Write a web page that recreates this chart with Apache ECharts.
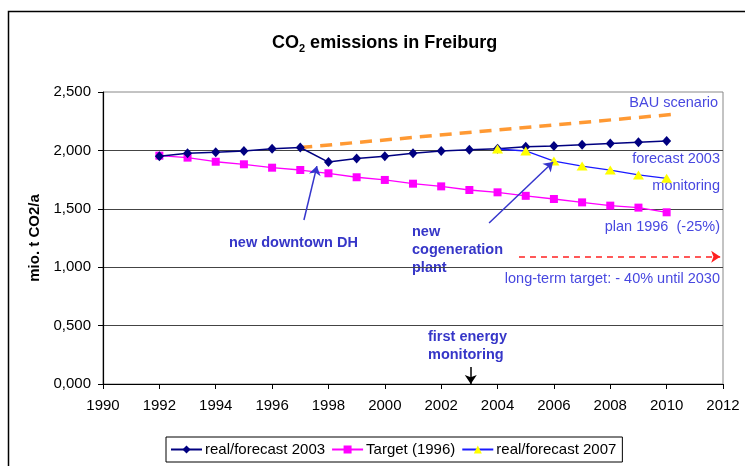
<!DOCTYPE html>
<html>
<head>
<meta charset="utf-8">
<script src="https://cdn.jsdelivr.net/npm/echarts@6/dist/echarts.min.js"></script>
<style>
  html, body { margin: 0; padding: 0; background: #fff; }
  #chart { width: 745px; height: 466px; }
</style>
</head>
<body>
<div id="chart"></div>
<script>
// values
const years = [1992, 1993, 1994, 1995, 1996, 1997, 1998, 1999, 2000, 2001,
               2002, 2003, 2004, 2005, 2006, 2007, 2008, 2009, 2010];
const real2003 = [1950, 1975, 1985, 1995, 2015, 2025, 1900, 1930, 1950, 1975,
                  1995, 2005, 2015, 2032, 2038, 2048, 2060, 2070, 2080];
const target1996 = [1955, 1938, 1903, 1881, 1852, 1832, 1804, 1770, 1747, 1715,
                    1692, 1661, 1641, 1611, 1584, 1555, 1527, 1510, 1470];
const years2007 = [2004, 2005, 2006, 2007, 2008, 2009, 2010];
const real2007 = [2012, 1995, 1909, 1866, 1832, 1790, 1761];
const bauYears = [1997, 2010.3];
const bauValues = [2025, 2310];
const yTickLabels = ['0,000', '0,500', '1,000', '1,500', '2,000', '2,500'];
const seriesNames = ['real/forecast 2003', 'Target (1996)', 'real/forecast 2007'];

const pairs = (xs, ys) => xs.map((x, i) => [x, ys[i]]);

const chart = echarts.init(document.getElementById('chart'));

const noteBold = '#3636c8';
const noteLight = '#4848e0';
const arrowBlue = '#3535cc';
const fnt = 'Liberation Sans, Arial, sans-serif';

function arrow(from, to, color, dashed) {
  return [
    { coord: from, lineStyle: { color: color, width: 1.5, type: dashed ? [6, 5] : 'solid' } },
    { coord: to }
  ];
}

const option = {
  animation: false,
  textStyle: { fontFamily: fnt },
  title: {
    text: '{a|CO}{b|2}{a| emissions in Freiburg}',
    left: 267,
    top: 27,
    textStyle: {
      rich: {
        a: { fontSize: 18, fontWeight: 'bold', color: '#000', lineHeight: 22, fontFamily: fnt },
        b: { fontSize: 11, fontWeight: 'bold', color: '#000', lineHeight: 12, verticalAlign: 'bottom', fontFamily: fnt }
      }
    }
  },
  grid: {
    left: 103, right: 22, top: 92, bottom: 82,
    show: true, borderColor: '#888', borderWidth: 1
  },
  legend: {
    data: seriesNames,
    left: 166,
    top: 437,
    padding: [5, 6, 5, 4],
    itemWidth: 31,
    itemHeight: 10,
    itemGap: 6,
    borderColor: '#000',
    borderWidth: 1,
    textStyle: { fontSize: 15, color: '#000', padding: [0, 0, 0, -2] }
  },
  xAxis: {
    type: 'value',
    min: 1990,
    max: 2012,
    interval: 2,
    axisLine: { lineStyle: { color: '#000', width: 1.2 } },
    axisTick: { show: true, length: 5, lineStyle: { color: '#000' } },
    axisLabel: { fontSize: 15, color: '#000', margin: 14, formatter: v => String(v) },
    splitLine: { show: false }
  },
  yAxis: {
    type: 'value',
    min: 0,
    max: 2500,
    interval: 500,
    name: 'mio. t CO2/a',
    nameLocation: 'middle',
    nameRotate: 90,
    nameGap: 60,
    nameTextStyle: { fontSize: 15, fontWeight: 'bold', color: '#000' },
    axisLine: { show: true, lineStyle: { color: '#000', width: 1.2 } },
    axisTick: { show: true, length: 5, lineStyle: { color: '#000' } },
    axisLabel: {
      fontSize: 15, color: '#000', margin: 12,
      formatter: v => yTickLabels[Math.round(v / 500)]
    },
    splitLine: { show: true, showMaxLine: false, lineStyle: { color: '#444', width: 1 } }
  },
  series: [
    {
      name: 'BAU',
      type: 'line',
      data: pairs(bauYears, bauValues),
      symbol: 'none',
      lineStyle: { color: '#ff9933', width: 3.5, type: [12, 8] },
      z: 1,
      silent: true,
      markLine: {
        silent: true,
        symbol: ['none', 'arrow'],
        symbolSize: 9,
        label: { show: false },
        data: [
          arrow([1997.13, 1404], [1997.59, 1866], arrowBlue, false),
          arrow([2003.7, 1378], [2005.97, 1901], arrowBlue, false),
          arrow([2003.05, 146], [2003.05, 0], '#000', false),
          arrow([2004.76, 1090], [2011.9, 1090], '#ff2020', true)
        ]
      }
    },
    {
      name: seriesNames[0],
      type: 'line',
      data: pairs(years, real2003),
      symbol: 'diamond',
      symbolSize: [9, 10],
      itemStyle: { color: '#000080' },
      lineStyle: { color: '#000080', width: 1.5 },
      z: 3
    },
    {
      name: seriesNames[1],
      type: 'line',
      data: pairs(years, target1996),
      symbol: 'rect',
      symbolSize: 8,
      itemStyle: { color: '#ff00ff' },
      lineStyle: { color: '#ff00ff', width: 1.3 },
      z: 2
    },
    {
      name: seriesNames[2],
      type: 'line',
      data: pairs(years2007, real2007),
      symbol: 'triangle',
      symbolSize: [11, 9],
      itemStyle: { color: '#ffff00' },
      lineStyle: { color: '#1a1aff', width: 1.3 },
      z: 4
    }
  ],
  graphic: [
    {
      type: 'rect',
      shape: { x: 8.5, y: 11.5, width: 800, height: 500 },
      style: { fill: 'none', stroke: '#000', lineWidth: 1.5 },
      silent: true
    },
    { type: 'text', x: 718, y: 103, style: { text: 'BAU scenario', fill: noteLight, font: '14.5px ' + fnt, align: 'right', verticalAlign: 'middle' } },
    { type: 'text', x: 720, y: 159, style: { text: 'forecast 2003', fill: noteLight, font: '14.5px ' + fnt, align: 'right', verticalAlign: 'middle' } },
    { type: 'text', x: 720, y: 186, style: { text: 'monitoring', fill: noteLight, font: '14.5px ' + fnt, align: 'right', verticalAlign: 'middle' } },
    { type: 'text', x: 720, y: 227, style: { text: 'plan 1996  (-25%)', fill: noteLight, font: '14.5px ' + fnt, align: 'right', verticalAlign: 'middle' } },
    { type: 'text', x: 720, y: 279, style: { text: 'long-term target: - 40% until 2030', fill: noteLight, font: '14.5px ' + fnt, align: 'right', verticalAlign: 'middle' } },
    { type: 'text', x: 229, y: 243, style: { text: 'new downtown DH', fill: noteBold, font: 'bold 14.5px ' + fnt, align: 'left', verticalAlign: 'middle' } },
    { type: 'text', x: 412, y: 223, style: { text: 'new\ncogeneration\nplant', fill: noteBold, font: 'bold 14.5px ' + fnt, lineHeight: 18, align: 'left', verticalAlign: 'top' } },
    { type: 'text', x: 428, y: 328, style: { text: 'first energy\nmonitoring', fill: noteBold, font: 'bold 14.5px ' + fnt, lineHeight: 18, align: 'left', verticalAlign: 'top' } }
  ]
};

chart.setOption(option);
</script>
</body>
</html>
